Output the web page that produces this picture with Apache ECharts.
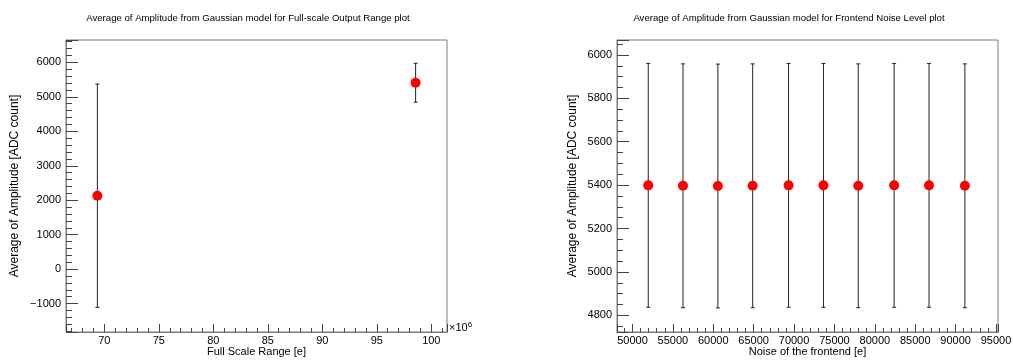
<!DOCTYPE html>
<html>
<head>
<meta charset="utf-8">
<script src="https://cdn.jsdelivr.net/npm/echarts@6/dist/echarts.min.js"></script>
<style>
  html, body { margin: 0; padding: 0; background: #fff; }
  #chart { width: 1013px; height: 360px; }
</style>
</head>
<body>
<div id="chart"></div>
<script>
// left plot: full scale range (e) vs mean amplitude
const fsrX = [69.36e6, 98.56e6]
const fsrY = [2130, 5410]
const fsrErr = [3240, 565]

// right plot: frontend noise (e) vs mean amplitude
const noiseX = [51950, 56250, 60570, 64880, 69320, 73640, 77950, 82390, 86710, 91150]
const noiseY = [5399, 5397, 5396, 5397, 5399, 5399, 5397, 5399, 5399, 5397]
const noiseErr = [562, 562, 562, 562, 562, 562, 562, 562, 562, 562]

const FONT = 'Liberation Sans'
const AXIS_COLOR = '#7a7a7a'

let chart = echarts.init(document.getElementById('chart'))

function errData(xs, ys, errs) {
  return xs.map((x, i) => [x, ys[i] - errs[i], ys[i] + errs[i]])
}

function errBars(params, api) {
  let x = api.value(0)
  let lo = api.coord([x, api.value(1)])
  let hi = api.coord([x, api.value(2)])
  let st = { stroke: '#222', lineWidth: 1 }
  return {
    type: 'group',
    children: [
      { type: 'line', shape: { x1: hi[0], y1: hi[1], x2: lo[0], y2: lo[1] }, style: st },
      { type: 'line', shape: { x1: hi[0] - 2, y1: hi[1], x2: hi[0] + 2, y2: hi[1] }, style: st },
      { type: 'line', shape: { x1: lo[0] - 2, y1: lo[1], x2: lo[0] + 2, y2: lo[1] }, style: st },
    ],
  }
}

function minus(v) {
  return String(v).replace('-', '\u2212')
}

function xAxisBase(gridIndex) {
  return {
    type: 'value',
    gridIndex: gridIndex,
    nameLocation: 'middle',
    nameGap: 14,
    nameMoveOverlap: false,
    nameTextStyle: { color: '#000', fontFamily: FONT, fontSize: 11 },
    axisLine: { onZero: false, lineStyle: { color: AXIS_COLOR } },
    axisTick: { inside: true, length: 8, lineStyle: { color: '#444' } },
    minorTick: { show: true, splitNumber: 5, length: 4, lineStyle: { color: '#444' } },
    axisLabel: {
      color: '#000',
      fontFamily: FONT,
      fontSize: 11,
      margin: 3,
      showMinLabel: false,
      showMaxLabel: false,
      formatter: (v) => String(v),
    },
    splitLine: { show: false },
  }
}

function yAxisBase(gridIndex) {
  return {
    type: 'value',
    gridIndex: gridIndex,
    name: 'Average of Amplitude [ADC count]',
    nameLocation: 'middle',
    nameMoveOverlap: false,
    nameTextStyle: { color: '#000', fontFamily: FONT, fontSize: 12 },
    axisLine: { onZero: false, lineStyle: { color: AXIS_COLOR } },
    axisTick: { inside: true, length: 12, lineStyle: { color: '#444' } },
    minorTick: { show: true, length: 6, lineStyle: { color: '#444' } },
    axisLabel: {
      color: '#000',
      fontFamily: FONT,
      fontSize: 11,
      margin: 5,
      showMinLabel: false,
      showMaxLabel: false,
      formatter: minus,
    },
    splitLine: { show: false },
  }
}

let option = {
  animation: false,
  title: [
    {
      text: 'Average of Amplitude from Gaussian model for Full-scale Output Range plot',
      left: 243,
      top: 8,
      textAlign: 'center',
      textStyle: { fontFamily: FONT, fontSize: 9.6, fontWeight: 'normal', color: '#000' },
    },
    {
      text: 'Average of Amplitude from Gaussian model for Frontend Noise Level plot',
      left: 784,
      top: 8,
      textAlign: 'center',
      textStyle: { fontFamily: FONT, fontSize: 9.6, fontWeight: 'normal', color: '#000' },
    },
  ],
  grid: [
    {
      left: 66, right: 566, top: 40, bottom: 28,
      outerBoundsMode: 'none',
      show: true, borderColor: AXIS_COLOR, borderWidth: 1,
    },
    {
      left: 617, right: 15, top: 40, bottom: 28,
      outerBoundsMode: 'none',
      show: true, borderColor: AXIS_COLOR, borderWidth: 1,
    },
  ],
  xAxis: [
    {
      ...xAxisBase(0),
      name: 'Full Scale Range [e]',
      min: 66.48e6,
      max: 101.44e6,
      splitNumber: 7,
      axisLabel: {
        ...xAxisBase(0).axisLabel,
        formatter: (v) => String(Math.round(v / 1e5) / 10),
      },
    },
    {
      ...xAxisBase(1),
      name: 'Noise of the frontend [e]',
      min: 48080,
      max: 95250,
      splitNumber: 9,
    },
  ],
  yAxis: [
    {
      ...yAxisBase(0),
      nameGap: 45,
      min: -1825,
      max: 6650,
      splitNumber: 8,
      minorTick: { ...yAxisBase(0).minorTick, splitNumber: 5 },
    },
    {
      ...yAxisBase(1),
      nameGap: 38,
      min: 4723,
      max: 6069,
      splitNumber: 7,
      minorTick: { ...yAxisBase(1).minorTick, splitNumber: 4 },
    },
  ],
  graphic: [
    {
      type: 'text',
      left: 449,
      top: 321,
      style: {
        text: '\u00d710{s|6}',
        fontFamily: FONT,
        fontSize: 11,
        fill: '#000',
        rich: { s: { fontSize: 8, verticalAlign: 'top', padding: [0, 0, 6, 0] } },
      },
    },
  ],
  series: [
    {
      type: 'custom',
      xAxisIndex: 0,
      yAxisIndex: 0,
      renderItem: errBars,
      encode: { x: 0, y: [1, 2] },
      data: errData(fsrX, fsrY, fsrErr),
      z: 2,
    },
    {
      type: 'scatter',
      xAxisIndex: 0,
      yAxisIndex: 0,
      symbolSize: 10,
      itemStyle: { color: '#ff0000', opacity: 1 },
      data: fsrX.map((x, i) => [x, fsrY[i]]),
      z: 3,
    },
    {
      type: 'custom',
      xAxisIndex: 1,
      yAxisIndex: 1,
      renderItem: errBars,
      encode: { x: 0, y: [1, 2] },
      data: errData(noiseX, noiseY, noiseErr),
      z: 2,
    },
    {
      type: 'scatter',
      xAxisIndex: 1,
      yAxisIndex: 1,
      symbolSize: 10,
      itemStyle: { color: '#ff0000', opacity: 1 },
      data: noiseX.map((x, i) => [x, noiseY[i]]),
      z: 3,
    },
  ],
}
chart.setOption(option)
</script>
</body>
</html>
